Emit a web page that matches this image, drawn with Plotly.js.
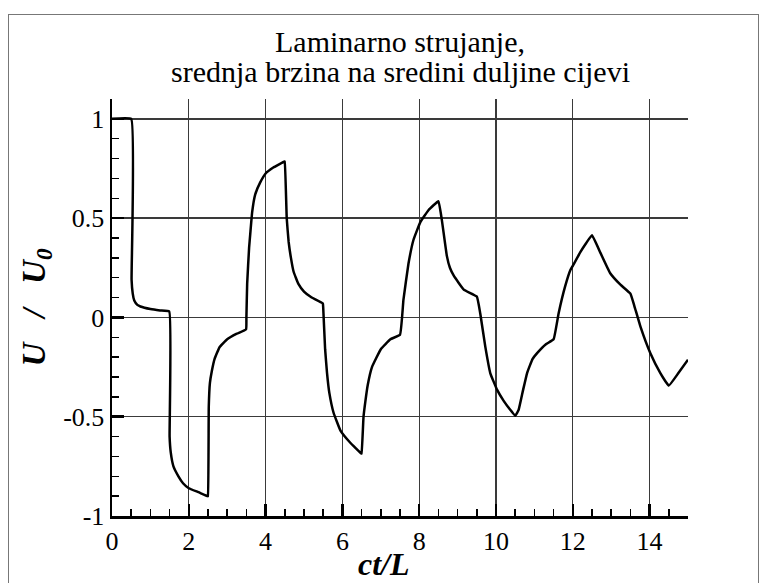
<!DOCTYPE html>
<html>
<head>
<meta charset="utf-8">
<script src="https://cdn.plot.ly/plotly-3.0.1.min.js"></script>
<style>
  html, body { margin: 0; padding: 0; background: #fff; overflow: hidden; }
  #wrap { position: relative; width: 765px; height: 583px; }
  #frame { position: absolute; left: 8px; top: 14px; width: 751px; height: 600px; border: 1.5px solid #777; box-sizing: border-box; pointer-events: none; }
  #chart { position: absolute; left: 0; top: 0; width: 765px; height: 583px; }
</style>
</head>
<body>
<div id="wrap">
  <div id="frame"></div>
  <div id="chart"></div>
</div>
<script>
// ct/L (dimensionless time)
const ctL = [
  0, 0.5, 0.51, 0.54, 0.58, 0.66, 0.74, 1.0, 1.25, 1.49,
  1.5, 1.53, 1.6, 1.73, 1.85, 2.0, 2.25, 2.49,
  2.5, 2.52, 2.55, 2.6, 2.67, 2.8, 3.0, 3.25, 3.49,
  3.5, 3.52, 3.57, 3.6, 3.65, 3.73, 3.86, 4.0, 4.2, 4.49,
  4.5, 4.55, 4.6, 4.66, 4.73, 4.85, 5.0, 5.2, 5.49,
  5.5, 5.55, 5.6, 5.66, 5.77, 5.95, 6.2, 6.49,
  6.5, 6.55, 6.6, 6.66, 6.77, 7.0, 7.25, 7.5,
  7.59, 7.72, 7.85, 8.03, 8.24, 8.5,
  8.59, 8.72, 8.8, 8.9, 9.16, 9.5,
  9.59, 9.72, 9.85, 10.03, 10.2, 10.37, 10.5,
  10.59, 10.7, 10.81, 10.95, 11.07, 11.3, 11.5,
  11.63, 11.8, 11.94, 12.0, 12.2, 12.35, 12.5,
  12.72, 12.97, 13.24, 13.5,
  13.6, 13.76, 14.02, 14.28, 14.5,
  14.75, 15.0
];
// U / U0 (mean velocity at mid-length of pipe)
const uRatio = [
  1, 1, 0.19, 0.12, 0.085, 0.063, 0.055, 0.042, 0.035, 0.03,
  -0.6, -0.68, -0.75, -0.8, -0.835, -0.86, -0.88, -0.9,
  -0.9, -0.45, -0.33, -0.27, -0.21, -0.15, -0.11, -0.082, -0.06,
  0.0, 0.17, 0.35, 0.42, 0.53, 0.62, 0.68, 0.725, 0.755, 0.785,
  0.785, 0.5, 0.38, 0.3, 0.23, 0.17, 0.13, 0.1, 0.07,
  0.05, -0.16, -0.28, -0.38, -0.48, -0.57, -0.63, -0.685,
  -0.685, -0.5, -0.42, -0.34, -0.25, -0.16, -0.11, -0.087,
  0.09, 0.27, 0.39, 0.48, 0.54, 0.585,
  0.49, 0.31, 0.25, 0.21, 0.14, 0.105,
  0.02, -0.146, -0.28, -0.365, -0.42, -0.465, -0.495,
  -0.465, -0.37, -0.28, -0.21, -0.18, -0.135, -0.11,
  0.02, 0.156, 0.24, 0.26, 0.33, 0.375, 0.414,
  0.325, 0.224, 0.165, 0.12,
  0.06, -0.045, -0.18, -0.28, -0.343,
  -0.28, -0.213
];

const xTickVals = [0, 2, 4, 6, 8, 10, 12, 14];
const xTickText = ['0', '2', '4', '6', '8', '10', '12', '14'];
const yTickVals = [-1, -0.5, 0, 0.5, 1];
const yTickText = ['-1', '-0.5', '0', '0.5', '1'];

const titleLine1 = 'Laminarno strujanje,';
const titleLine2 = 'srednja brzina na sredini duljine cijevi';
const xTitle = '<b><i>ct/L</i></b>';
const yTitle = '<b><i>U&nbsp;&nbsp;&nbsp;/&nbsp;&nbsp;&nbsp;U<sub>0</sub></i></b>';

const serif = 'Liberation Serif';

const trace = {
  x: ctL,
  y: uRatio,
  type: 'scatter',
  mode: 'lines',
  line: { color: '#000', width: 2.5, shape: 'spline', smoothing: 0.3 },
  hoverinfo: 'skip'
};

const plotCenterX = 0.5 * (112 + 688) / 765;

const layout = {
  width: 765,
  height: 583,
  paper_bgcolor: 'rgba(0,0,0,0)',
  plot_bgcolor: 'rgba(0,0,0,0)',
  margin: { l: 112, r: 77, t: 99, b: 67 },
  showlegend: false,
  font: { family: serif, color: '#000' },
  title: {
    text: titleLine1,
    font: { family: serif, size: 30, color: '#000' },
    x: plotCenterX,
    xanchor: 'center',
    y: 1 - 41 / 583,
    yanchor: 'middle'
  },
  annotations: [
    {
      text: titleLine2,
      xref: 'paper', yref: 'paper',
      x: 0.5, y: 1,
      xanchor: 'center', yanchor: 'middle',
      yshift: 28,
      showarrow: false,
      font: { family: serif, size: 30, color: '#000' }
    },
    {
      text: xTitle,
      xref: 'paper', yref: 'paper',
      x: (384 - 112) / 576, y: 0,
      xanchor: 'center', yanchor: 'middle',
      yshift: -48,
      showarrow: false,
      font: { family: serif, size: 32, color: '#000' }
    }
  ],
  xaxis: {
    range: [0, 15],
    tickmode: 'array',
    tickvals: xTickVals,
    ticktext: xTickText,
    ticks: 'inside',
    ticklen: 12,
    tickwidth: 2.5,
    tickcolor: '#000',
    minor: { dtick: 0.5, ticks: 'inside', ticklen: 7, tickwidth: 1.5, tickcolor: '#000', showgrid: false },
    showline: true,
    linecolor: '#000',
    linewidth: 2.5,
    showgrid: true,
    gridcolor: '#3a3a3a',
    gridwidth: 1.3,
    zeroline: false,
    tickfont: { family: serif, size: 26, color: '#000' }
  },
  yaxis: {
    range: [-1, 1.1],
    tickmode: 'array',
    tickvals: yTickVals,
    ticktext: yTickText,
    ticks: 'inside',
    ticklen: 12,
    tickwidth: 2.5,
    tickcolor: '#000',
    minor: { dtick: 0.1, ticks: 'inside', ticklen: 7, tickwidth: 1.5, tickcolor: '#000', showgrid: false },
    showline: true,
    linecolor: '#000',
    linewidth: 2.5,
    showgrid: true,
    gridcolor: '#3a3a3a',
    gridwidth: 1.3,
    zeroline: false,
    tickfont: { family: serif, size: 26, color: '#000' },
    title: { text: yTitle, font: { family: serif, size: 33, color: '#000' }, standoff: 8 }
  }
};

Plotly.newPlot('chart', [trace], layout, { staticPlot: true, displayModeBar: false });
</script>
</body>
</html>
